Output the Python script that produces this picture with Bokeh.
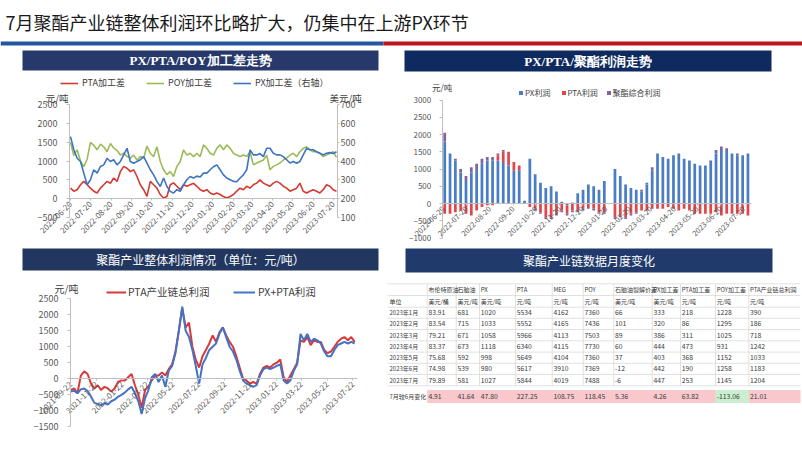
import math
import numpy as np
import pandas as pd
from bokeh.plotting import figure
from bokeh.layouts import column, row
from bokeh.models import (Range1d, LinearAxis, DatetimeTickFormatter, FixedTicker,
                          Legend, LegendItem, Label, ColumnDataSource)
from bokeh.core.properties import value
from bokeh.embed import file_html
from bokeh.resources import INLINE

# ------------------------------------------------------------------ data
TITLE = "7月聚酯产业链整体利润环比略扩大，仍集中在上游PX环节"
HEAD1 = "PX/PTA/POY加工差走势"
HEAD2 = "PX/PTA/聚酯利润走势"
HEAD3 = "聚酯产业整体利润情况（单位：元/吨）"
HEAD4 = "聚酯产业链数据月度变化"

# chart 1: processing spreads, one reading every 5 days from 2022-06-20
spread_start = "2022-06-20"
pta_spread = [280, 200, 240, 370, 460, 370, 280, 200, 150, 280,
              370, 460, 410, 550, 460, 720, 860, 810, 720, 770,
              590, 370, 240, 60, 460, 370, 280, 110, 20, 60,
              370, 420, 330, 240, 370, 330, 370, 410, 330, 240,
              200, 240, 150, 110, 150, 110, 60, 20, 60, 110,
              200, 280, 240, 330, 280, 370, 415, 500, 415, 370,
              330, 415, 460, 415, 330, 280, 200, 240, 280, 415,
              200, 150, 200, 240, 200, 150, 240, 370, 330, 240,
              200]
poy_spread = [1500, 1150, 1300, 1000, 850, 1050, 1500, 1420, 1300, 1450,
              1380, 1250, 1470, 1350, 1280, 1160, 1210, 1120, 1080, 1160,
              1030, 1120, 1080, 1400, 1210, 1120, 1380, 990, 770, 640,
              720, 590, 860, 990, 1300, 1160, 1210, 1120, 1210, 1120,
              1430, 1340, 1210, 1160, 1340, 1430, 1300, 1430, 1340, 1210,
              1160, 1120, 1160, 1120, 1250, 900, 950, 990, 1030, 1160,
              770, 860, 900, 950, 1030, 1080, 1160, 1210, 1120, 1250,
              1340, 1380, 1300, 1250, 1250, 1210, 1120, 1160, 1210, 1250,
              1100]
px_spread = [530, 460, 415, 398, 336, 274, 301, 354, 336, 371,
             380, 415, 398, 407, 380, 398, 433, 468, 398, 389,
             398, 407, 424, 389, 354, 327, 292, 265, 310, 265,
             239, 230, 248, 239, 274, 301, 318, 310, 320, 315,
             336, 336, 354, 370, 380, 354, 327, 310, 301, 292,
             290, 310, 327, 354, 460, 433, 433, 440, 424, 468,
             468, 442, 433, 433, 424, 407, 390, 398, 389, 398,
             433, 468, 460, 460, 450, 442, 433, 442, 445, 440,
             450]
spread_ticks = ["2022-06-20", "2022-07-20", "2022-08-20", "2022-09-20", "2022-10-20",
                "2022-11-20", "2022-12-20", "2023-01-20", "2023-02-20", "2023-03-20",
                "2023-04-20", "2023-05-20", "2023-06-20", "2023-07-20"]
spread_left_ticks = [-500, 0, 500, 1000, 1500, 2000, 2500]
spread_right_ticks = [100, 200, 300, 400, 500, 600, 700]

# chart 2: weekly profits (week starting 2022-06-20), NaN = holiday week
profit_week_start = "2022-06-20"
NA = float("nan")
px_profit = [1800, 1450, 1250, 900, 650, 900, 1000, 1150, 1250, 1250,
             1250, 1200, 1100, 950, 950, 80, 1300, 850, 600, 450,
             500, 350, 50, -50, 30, 300, 400, 550, 500, 400,
             650, NA, 1000, 800, 550, 450, 400, 350, 550, 950,
             1450, 1350, 1300, 1400, 1450, 1300, 1250, 1150, 1100, 1100,
             1200, 1450, 1550, 1550, 1450, 1400, 1400, 1450]
pta_profit = [-300, -300, -250, -200, -300, -350, -200, -100, -50, -50,
              150, 300, 400, 250, 150, 0, -100, -150, -250, -400,
              -400, -300, -200, -250, -200, -200, -150, -100, -150, -250,
              -250, NA, -400, -350, -400, -300, -250, -200, -200, -150,
              -150, -150, -100, -150, -200, -150, -200, -300, -300, -300,
              -300, -250, -350, -300, -300, -300, -300, -350]
poly_profit = [250, 0, 50, 100, 150, 150, 150, 150, 100, 100,
               50, 50, 0, 0, 0, 0, 0, -50, -50, -50,
               -50, -50, -50, -50, -50, -50, -50, -50, -50, -50,
               -50, NA, -50, -50, -50, -50, -50, 50, 50, 100,
               0, 0, 0, 0, 0, 0, 0, 0, 0, 0,
               50, 100, 100, 50, 0, 50, 0, 0]
profit_ticks = spread_ticks
profit_y_ticks = [-1000, -500, 0, 500, 1000, 1500, 2000, 2500, 3000]

# chart 3: chain profits, one reading every 8 days from 2021-09-22
chain_start = "2021-09-22"
pta_chain_total = [-350, -300, -450, 100, 230, 150, -150, -300, -200, -350,
                   -250, -300, -400, -300, -100, -50, -50, 50, 150, -200,
                   -500, -900, -350, -250, -50, 100, 100, 200, 100, 300,
                   450, 850, 1500, 2200, 1600, 1750, 1000, 600, 350, 700,
                   900, 1100, 1350, 1150, 1450, 1600, 1350, 1150, 1000, 700,
                   350, 0, -50, -150, -100, -150, 150, 350, 400, 350,
                   450, 500, 600, 50, -100, 100, 300, 500, 1200, 1150,
                   1300, 1050, 1200, 1150, 1150, 900, 800, 850, 1000, 1150,
                   1250, 1300, 1200, 1300, 1150]
px_pta_profit = [-400, -370, -450, -330, -300, -380, -550, -750, -780, -820,
                 -760, -800, -700, -650, -560, -500, -430, -330, -250, -450,
                 -700, -1100, -600, -350, 50, 150, -100, 100, -250, 250,
                 400, 800, 1500, 2250, 1500, 1300, 900, 400, -150, 450,
                 650, 900, 1000, 1100, 1400, 1600, 1300, 1000, 850, 600,
                 250, -50, -150, -200, -250, -200, 100, 300, 350, 300,
                 350, 400, 450, -50, -150, -50, 250, 450, 1400, 1200,
                 1400, 1150, 1250, 1200, 1100, 850, 700, 700, 900, 1050,
                 1100, 1150, 1100, 1150, 1100]
chain_ticks = ["2021-09-22", "2021-11-22", "2022-01-22", "2022-03-22", "2022-05-22",
               "2022-07-22", "2022-09-22", "2022-11-22", "2023-01-22", "2023-03-22",
               "2023-05-22", "2023-07-22"]
chain_y_ticks = [-1500, -1000, -500, 0, 500, 1000, 1500, 2000, 2500]

# table
table_cols = ["布伦特原油", "石脑油", "PX", "PTA", "MEG", "POY", "石脑油裂解价差",
              "PX加工差", "PTA加工差", "POY加工差", "PTA产业链总利润"]
table_units = ["美元/桶", "美元/吨", "美元/吨", "元/吨", "元/吨", "元/吨", "美元/吨",
               "美元/吨", "元/吨", "元/吨", "元/吨"]
unit_label = "单位"
months = ["2023年1月", "2023年2月", "2023年3月", "2023年4月", "2023年5月", "2023年6月", "2023年7月"]
brent = [83.91, 83.54, 79.21, 83.37, 75.68, 74.98, 79.89]
naphtha = [681, 715, 671, 673, 592, 539, 581]
px_price = [1020, 1033, 1058, 1118, 998, 980, 1027]
pta_price = [5534, 5552, 5966, 6340, 5649, 5617, 5844]
meg_price = [4162, 4165, 4113, 4115, 4104, 3910, 4019]
poy_price = [7360, 7436, 7503, 7730, 7360, 7369, 7488]
naphtha_crack = [66, 101, 89, 60, 37, -12, -6]
px_margin = [333, 320, 386, 444, 403, 442, 447]
pta_margin = [218, 86, 311, 473, 368, 190, 253]
poy_margin = [1228, 1295, 1025, 931, 1152, 1258, 1145]
chain_profit = [390, 186, 718, 1242, 1033, 1183, 1204]
change_label = "7月较6月变化"
change = [4.91, 41.64, 47.80, 227.25, 108.75, 118.45, 5.36, 4.26, 63.82, -113.06, 21.01]

# ------------------------------------------------------------------ style
CJK = "Noto Sans CJK SC"
SERIF = "Liberation Serif"
TXT = "#404040"
TICK = "#595959"
AXC = "#BFBFBF"
DAY = 86400000.0
SPLIT = 384  # x where the left and right columns meet


def ms(s):
    return pd.Timestamp(s).value / 1e6


def x_range_px(anchor, anchor_px, px_per_day, left_px, right_px):
    a = ms(anchor)
    return Range1d(a - (anchor_px - left_px) / px_per_day * DAY,
                   a + (right_px - anchor_px) / px_per_day * DAY)


def y_range_px(anchor_val, anchor_px, px_per_unit, top_px, bottom_px):
    return Range1d(anchor_val - (bottom_px - anchor_px) / px_per_unit,
                   anchor_val + (anchor_px - top_px) / px_per_unit)


def at_px(anchor, anchor_px, px_per_day, px):
    return ms(anchor) + (px - anchor_px) / px_per_day * DAY


def blank(width, height, x0, y0):
    f = figure(width=width, height=height,
               x_range=Range1d(x0, x0 + width), y_range=Range1d(y0 + height, y0),
               x_axis_location=None, y_axis_location=None,
               min_border=0, output_backend="svg", toolbar_location=None)
    f.outline_line_color = None
    f.grid.visible = False
    return f


def header(width, height, x0, y0, box, label, color, font, size, style):
    f = blank(width, height, x0, y0)
    l, r, t, b = box
    f.quad(left=[l], right=[r], top=[t], bottom=[b], fill_color=color, line_color=None)
    f.text(x=[(l + r) / 2], y=[(t + b) / 2], text=[label], text_font=value(font),
           text_font_size=size, text_font_style=style, text_color="white",
           text_align="center", text_baseline="middle")
    return f


def style_axis(ax, size):
    ax.axis_line_color = AXC
    ax.major_tick_line_color = AXC
    ax.minor_tick_line_color = None
    ax.major_tick_in = 0
    ax.major_tick_out = 3
    ax.major_label_text_font = CJK
    ax.major_label_text_font_size = size
    ax.major_label_text_color = TICK


def date_axis(p, ticks, size, bounds):
    ax = p.xaxis[0]
    style_axis(ax, size)
    ax.fixed_location = 0
    ax.bounds = bounds
    ax.ticker = FixedTicker(ticks=[ms(t) for t in ticks])
    fmt = "%Y-%m-%d"
    ax.formatter = DatetimeTickFormatter(days=fmt, months=fmt, years=fmt, hours=fmt,
                                         hourmin=fmt, minutes=fmt, boundary_scaling=False)
    ax.major_label_orientation = math.pi / 4
    ax.major_tick_out = 2
    ax.major_label_standoff = 2


def value_axis(ax, ticks, loc, size, standoff, tick_out=3):
    style_axis(ax, size)
    ax.fixed_location = loc
    ax.ticker = FixedTicker(ticks=ticks)
    ax.bounds = (ticks[0], ticks[-1])
    ax.major_label_standoff = standoff
    ax.major_tick_out = tick_out


def legend_at(p, renderer, label, x, y, size, gw, gh, standoff):
    lg = Legend(items=[LegendItem(label=value(label), renderers=[renderer])],
                location=(x, y), orientation="horizontal", padding=0, margin=0, spacing=0,
                border_line_color=None, background_fill_alpha=0,
                glyph_width=gw, glyph_height=gh, label_height=gh, label_standoff=standoff,
                label_text_font=CJK, label_text_font_size=size, label_text_color=TXT)
    p.add_layout(lg, "center")


def chart_fig(w, h, xr, yr):
    p = figure(width=w, height=h, x_axis_type="datetime", x_range=xr, y_range=yr,
               output_backend="svg", toolbar_location=None, min_border=0)
    p.outline_line_color = None
    p.grid.visible = False
    return p


# ------------------------------------------------------------------ title band
pt = blank(802, 48, 0, 0)
pt.text(x=[5], y=[21], text=[TITLE], text_font=value(CJK), text_font_size="18px",
        text_color="#1a1a1a", text_align="left", text_baseline="middle")
pt.quad(left=[0, 383], right=[383, 802], top=[41, 41], bottom=[45, 45],
        fill_color=["#2356A0", "#C0141C"], line_color=None)

# ------------------------------------------------------------------ chart 1  (box x 0..SPLIT, y 72..244)
PPD1 = 0.665
t1a = at_px("2022-06-18 12:00", 69, PPD1, 69)
t1b = at_px("2022-06-18 12:00", 69, PPD1, 337)
p1 = chart_fig(SPLIT, 172, x_range_px("2022-06-18 12:00", 69, PPD1, 0, SPLIT),
               y_range_px(-500, 217, 0.0376, 72, 244))
yr1 = p1.y_range
p1.extra_y_ranges = {"usd": Range1d(200 + yr1.start / 5, 200 + yr1.end / 5)}
d1 = pd.date_range(spread_start, periods=len(pta_spread), freq="5D")
src1 = ColumnDataSource(dict(date=d1, pta=pta_spread, poy=poy_spread, px=px_spread))
r_poy = p1.line("date", "poy", source=src1, color="#9BBB59", line_width=1.6)
r_pta = p1.line("date", "pta", source=src1, color="#D43A32", line_width=1.6)
r_px = p1.line("date", "px", source=src1, color="#3C73C2", line_width=1.6, y_range_name="usd")
value_axis(p1.yaxis[0], spread_left_ticks, t1a, "9px", 9)
ra = LinearAxis(y_range_name="usd")
value_axis(ra, spread_right_ticks, t1b, "9px", 1, 2)
p1.add_layout(ra, "right")
date_axis(p1, spread_ticks, "8px", (t1a, t1b))
legend_at(p1, r_pta, "PTA加工差", 60, 155, "9px", 18, 10, 4)
legend_at(p1, r_poy, "POY加工差", 146, 155, "9px", 18, 10, 4)
legend_at(p1, r_px, "PX加工差（右轴）", 233, 155, "9px", 18, 10, 4)
p1.add_layout(Label(x=t1a, y=2665, text="元/吨", text_align="right", text_baseline="middle",
                    x_offset=-1, text_font=CJK, text_font_size="9.5px", text_color=TXT))
p1.add_layout(Label(x=t1b, y=2665, text="美元/吨", text_align="left", text_baseline="middle",
                    x_offset=-8, text_font=CJK, text_font_size="9.5px", text_color=TXT))

# ------------------------------------------------------------------ chart 2  (box x SPLIT..802, y 72..244)
PPD2 = 0.76
t2a = at_px("2022-06-20", 442.7, PPD2, 441.7)
t2b = at_px("2022-06-20", 442.7, PPD2, 751)
p2 = chart_fig(802 - SPLIT, 172, x_range_px("2022-06-20", 442.7, PPD2, SPLIT, 802),
               y_range_px(0, 203, 0.0345, 72, 244))
wk = pd.date_range(profit_week_start, periods=len(px_profit), freq="7D")
pos = np.zeros(len(wk))
neg = np.zeros(len(wk))
stacks = []
for s in (px_profit, pta_profit, poly_profit):
    s0 = np.nan_to_num(np.array(s, dtype=float))
    b = np.where(s0 >= 0, pos, neg)
    t = b + s0
    pos = np.where(s0 >= 0, t, pos)
    neg = np.where(s0 < 0, t, neg)
    stacks.append((b, t))
xc = wk + pd.Timedelta(days=2)
bar_colors = ["#4A7DC4", "#E0474C", "#8064A2"]
bar_names = ["PX利润", "PTA利润", "聚酯综合利润"]
bars = []
for (b, t), c in zip(stacks, bar_colors):
    src = ColumnDataSource(dict(x=xc, bottom=b, top=t))
    bars.append(p2.vbar(x="x", bottom="bottom", top="top", width=3.6 * DAY, source=src,
                        fill_color=c, line_color=None))
value_axis(p2.yaxis[0], profit_y_ticks, t2a, "8px", 8)
date_axis(p2, profit_ticks, "7.5px", (t2a, t2b))
legend_at(p2, bars[0], bar_names[0], 518 - SPLIT, 146, "8px", 5, 5, 2)
legend_at(p2, bars[1], bar_names[1], 560.5 - SPLIT, 146, "8px", 5, 5, 2)
legend_at(p2, bars[2], bar_names[2], 605.5 - SPLIT, 146, "8px", 5, 5, 2)
p2.add_layout(Label(x=t2a, y=3371, text="元/吨", text_align="center", text_baseline="middle",
                    text_font=CJK, text_font_size="8.5px", text_color=TXT))

# ------------------------------------------------------------------ chart 3  (box x 0..SPLIT, y 272..451)
PPD3 = 0.4225
t3a = at_px("2021-09-22", 70.2, PPD3, 70)
t3b = at_px("2021-09-22", 70.2, PPD3, 357)
p3 = chart_fig(SPLIT, 179, x_range_px("2021-09-22", 70.2, PPD3, 0, SPLIT),
               y_range_px(0, 378.3, 0.0321, 272, 451))
d3 = pd.date_range(chain_start, periods=len(pta_chain_total), freq="8D")
src3 = ColumnDataSource(dict(date=d3, total=pta_chain_total, pxpta=px_pta_profit))
r_tot = p3.line("date", "total", source=src3, color="#D9383A", line_width=2)
r_pp = p3.line("date", "pxpta", source=src3, color="#4472C4", line_width=2)
value_axis(p3.yaxis[0], chain_y_ticks, t3a, "9px", 9)
date_axis(p3, chain_ticks, "8px", (t3a, t3b))
legend_at(p3, r_tot, "PTA产业链总利润", 106, 152, "10.5px", 20, 12, 2)
legend_at(p3, r_pp, "PX+PTA利润", 233, 152, "10.5px", 22, 12, 3)
p3.add_layout(Label(x=t3a, y=2822, text="元/吨", text_align="center", text_baseline="middle",
                    x_offset=-4, text_font=CJK, text_font_size="10px", text_color=TXT))

# ------------------------------------------------------------------ table  (box x SPLIT..802, y 274..451)
tab = blank(802 - SPLIT, 177, SPLIT, 274)
col_edges = [387, 426.7, 455.7, 479, 515, 551.7, 582.7, 613.3, 651.7, 680, 715, 748.3]
table_right = 800
row_lines = [283.3, 295, 306.7, 317.8, 329, 340.3, 351.6, 362.8, 374, 385.3]
change_top, change_bottom = 389.5, 402.5
tab.quad(left=[col_edges[1], col_edges[10]], right=[table_right, col_edges[11]],
         top=[change_top, change_top], bottom=[change_bottom, change_bottom],
         fill_color=["#F9C8CD", "#C9EFD0"], line_color=None)
tab.segment(x0=[col_edges[0]] * len(row_lines), x1=[table_right] * len(row_lines),
            y0=row_lines, y1=row_lines, line_color="#D9D9D9", line_width=0.8)
tab.segment(x0=col_edges[1:], x1=col_edges[1:], y0=[row_lines[0]] * 11, y1=[row_lines[-1]] * 11,
            line_color="#D9D9D9", line_width=0.8)
columns_data = [brent, naphtha, px_price, pta_price, meg_price, poy_price, naphtha_crack,
                px_margin, pta_margin, poy_margin, chain_profit]
row_centers = [(row_lines[i] + row_lines[i + 1]) / 2 for i in range(len(row_lines) - 1)]
lx, ly, lt = [], [], []   # label cells (CJK heavy)
nx, ny, nt = [], [], []   # numeric cells
for j, name in enumerate(table_cols):
    lx.append(col_edges[j + 1] + 1.2); ly.append(row_centers[0]); lt.append(name)
lx.append(col_edges[0] + 2); ly.append(row_centers[1]); lt.append(unit_label)
for j, u in enumerate(table_units):
    lx.append(col_edges[j + 1] + 1.2); ly.append(row_centers[1]); lt.append(u)
for i, m in enumerate(months):
    lx.append(col_edges[0] + 2); ly.append(row_centers[i + 2]); lt.append(m)
    for j, col in enumerate(columns_data):
        v = col[i]
        nx.append(col_edges[j + 1] + 1.2); ny.append(row_centers[i + 2])
        nt.append(f"{v:.2f}" if j == 0 else f"{v}")
ymid = (change_top + change_bottom) / 2
lx.append(col_edges[0] + 2); ly.append(ymid); lt.append(change_label)
for j, v in enumerate(change):
    nx.append(col_edges[j + 1] + 1.2); ny.append(ymid); nt.append(f"{v:.2f}")
tab.text(x=lx, y=ly, text=lt, text_font=value(CJK), text_font_size="6px",
         text_color="#3A3A3A", text_align="left", text_baseline="middle")
tab.text(x=nx, y=ny, text=nt, text_font=value(CJK), text_font_size="6.8px",
         text_color="#3A3A3A", text_align="left", text_baseline="middle")

# ------------------------------------------------------------------ headers
h1 = header(SPLIT, 24, 0, 48, (22, 378, 50, 70), HEAD1, "#26396A", SERIF, "13px", "bold")
h2 = header(802 - SPLIT, 24, SPLIT, 48, (404, 771, 50, 71), HEAD2, "#0F2A5E", SERIF, "13px", "bold")
h3 = header(SPLIT, 28, 0, 244, (22, 378, 248, 270), HEAD3, "#22375F", CJK, "12px", "normal")
h4 = header(802 - SPLIT, 30, SPLIT, 244, (405, 772, 248, 272), HEAD4, "#1F3A6B", CJK, "12px", "normal")

left = column(h1, p1, h3, p3, spacing=0)
right = column(h2, p2, h4, tab, spacing=0)
page = column(pt, row(left, right, spacing=0), spacing=0)

with open("out.html", "w") as fh:
    fh.write(file_html(page, INLINE, title="聚酯产业链利润"))
